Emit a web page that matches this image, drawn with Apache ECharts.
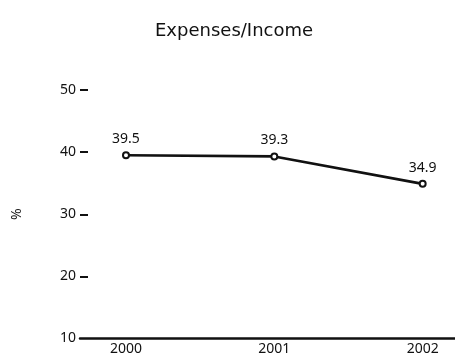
<!DOCTYPE html>
<html>
<head>
<meta charset="utf-8">
<script src="https://cdn.jsdelivr.net/npm/echarts@6/dist/echarts.min.js"></script>
<style>html,body{margin:0;padding:0;background:#fff}#c{width:455px;height:358px}</style>
</head>
<body>
<div id="c"></div>
<script>
var years = [2000, 2001, 2002];
var values = [39.5, 39.3, 34.9];
var yTicks = [10, 20, 30, 40, 50];
var titleText = 'Expenses/Income';
var yName = '%';

var FONT = 'Noto Sans';
var chart = echarts.init(document.getElementById('c'), null, {renderer: 'canvas'});
chart.setOption({
  animation: false,
  backgroundColor: '#fff',
  textStyle: {fontFamily: FONT},
  title: {
    text: titleText, left: 150, top: 17,
    textStyle: {fontFamily: 'DejaVu Sans', fontSize: 18, fontWeight: 'normal', color: '#111'}
  },
  grid: {left: 80, right: 0, top: 90, bottom: 19.5, containLabel: false},
  xAxis: {
    type: 'value', min: 1999.69, max: 2002.218,
    axisLine: {show: true, lineStyle: {color: '#111', width: 2.5}},
    axisTick: {show: false},
    splitLine: {show: false},
    axisLabel: {customValues: years, color: '#111', fontSize: 14, margin: 4, fontFamily: FONT,
      formatter: function (v) { return String(v); }}
  },
  yAxis: {
    type: 'value', min: 10, max: 50, interval: 10,
    name: yName, nameLocation: 'middle', nameGap: 56, nameRotate: 90,
    nameTextStyle: {fontSize: 14, color: '#111', fontFamily: FONT},
    axisLine: {show: false},
    axisTick: {show: true, inside: true, length: 8, customValues: yTicks.slice(1), lineStyle: {color: '#111', width: 2}},
    splitLine: {show: false},
    axisLabel: {customValues: yTicks, color: '#111', fontSize: 14, margin: 4, padding: [0, 0, 5, 0], fontFamily: FONT}
  },
  series: [{
    type: 'line',
    data: years.map(function (y, i) { return [y, values[i]]; }),
    symbol: 'emptyCircle', symbolSize: 6,
    lineStyle: {color: '#111', width: 2.7},
    itemStyle: {color: '#111', borderWidth: 1},
    label: {show: true, position: 'top', distance: 5, fontSize: 14, color: '#111', fontFamily: FONT,
      formatter: function (p) { return p.value[1].toFixed(1); }}
  }]
});
</script>
</body>
</html>
